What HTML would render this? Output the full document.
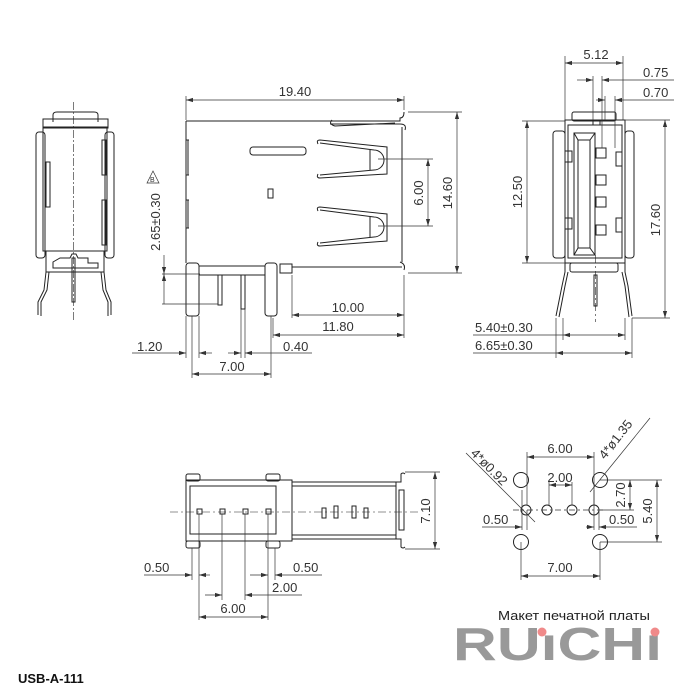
<!DOCTYPE html>
<html><head><meta charset="utf-8"><style>
html,body{margin:0;padding:0;background:#fff}
svg{display:block}
text{font-family:"Liberation Sans",sans-serif;font-size:13px;fill:#333}
</style></head><body>
<svg width="700" height="700" viewBox="0 0 700 700" xmlns="http://www.w3.org/2000/svg">
<defs>
<marker id="a" viewBox="0 0 10 10" refX="10" refY="5" markerWidth="7" markerHeight="7" orient="auto-start-reverse" markerUnits="userSpaceOnUse"><path d="M0,2 L10,5 L0,8z" fill="#333"/></marker>
</defs>
<g fill="none" stroke="#222" stroke-width="1">
<path d="M53,122 L53,115 Q53,112 57,112 L94,112 Q98,112 98,115 L98,122"/>
<rect x="43" y="119" width="65" height="9"/>
<rect x="43" y="127" width="64" height="124"/>
<rect x="36" y="132" width="9" height="126" rx="3"/>
<rect x="105" y="132" width="9" height="126" rx="3"/>
<rect x="46" y="162" width="4" height="45"/>
<rect x="102" y="140" width="4" height="35"/>
<rect x="102" y="200" width="4" height="45"/>
<rect x="46" y="251" width="58" height="21"/>
<path d="M53,268 L53,262 L60,258 L70,258 L72,254 L76,254 L78,258 L88,258 L88,263 L98,263 L98,268 Z"/>
<path d="M46,272 L44,290 L38,302 L38,315 M49,272 L47,290 L41,302 L41,316"/>
<path d="M104,272 L106,290 L111,302 L111,315 M101,272 L103,290 L108,302 L108,316"/>
<rect x="72" y="258" width="3" height="44"/>
<line x1="73.5" y1="102" x2="73.5" y2="322" stroke-width="0.6" stroke-dasharray="8 2 2 2"/>

<path d="M186,121 L400,121 L400,118 Q404,118 404,112"/>
<path d="M186,121 L186,263"/>
<path d="M402,127 L402,262"/>
<path d="M400,124 Q407,124 405,130 M400,262 Q406,264 404,270"/>
<path d="M330,124 L400,124 M332,120 Q328,124 335,126 L395,123"/>
<path d="M292,267 L402,267"/>
<rect x="280" y="264" width="12" height="9"/>
<rect x="186" y="263" width="13" height="53" rx="3"/>
<rect x="265" y="263" width="12" height="53" rx="3"/>
<rect x="199" y="266" width="66" height="9"/>
<rect x="218" y="275" width="4" height="30"/>
<rect x="241" y="275" width="4" height="34"/>
<rect x="250" y="147" width="56" height="8" rx="3"/>
<rect x="268" y="189" width="5" height="9"/>
<path d="M188,140 L188,175 M188,200 L188,228 M186,140 L189,140 M186,175 L189,175 M186,200 L189,200 M186,228 L189,228"/>
<path d="M320,140 L387,147 L387,174 L320,178 M318,144 Q316,140 320,140 M318,174 Q316,178 320,178 M320,143 L374,150 M320,175 L374,170 M374,150 A10,10 0 0 1 374,170 M370,150 L370,170"/>
<path d="M320,207 L387,214 L387,241 L320,246 M318,211 Q316,207 320,207 M318,242 Q316,246 320,246 M320,210 L374,217 M320,243 L374,237 M374,217 A10,10 0 0 1 374,237 M370,217 L370,237"/>
</g>
<g fill="none" stroke="#333" stroke-width="0.7">
<line x1="186" y1="100" x2="404" y2="100" marker-start="url(#a)" marker-end="url(#a)"/>
<line x1="186" y1="96" x2="186" y2="120"/><line x1="404" y1="96" x2="404" y2="110"/>
<line x1="378" y1="159" x2="433" y2="159"/><line x1="378" y1="226" x2="433" y2="226"/>
<line x1="428" y1="159" x2="428" y2="226" marker-start="url(#a)" marker-end="url(#a)"/>
<line x1="408" y1="112" x2="462" y2="112"/><line x1="408" y1="273" x2="462" y2="273"/>
<line x1="457" y1="112" x2="457" y2="273" marker-start="url(#a)" marker-end="url(#a)"/>
<line x1="162" y1="274" x2="200" y2="274"/><line x1="162" y1="304" x2="218" y2="304"/>
<line x1="164" y1="255" x2="164" y2="274" marker-end="url(#a)"/>
<line x1="164" y1="274" x2="164" y2="304" marker-start="url(#a)"/>
<line x1="292" y1="275" x2="292" y2="318"/><line x1="404" y1="275" x2="404" y2="338"/>
<line x1="292" y1="315" x2="404" y2="315" marker-start="url(#a)" marker-end="url(#a)"/>
<line x1="273" y1="318" x2="273" y2="338"/>
<line x1="273" y1="335" x2="404" y2="335" marker-start="url(#a)" marker-end="url(#a)"/>
<line x1="186" y1="316" x2="186" y2="358"/><line x1="199" y1="316" x2="199" y2="358"/>
<line x1="132" y1="353" x2="186" y2="353" marker-end="url(#a)"/>
<line x1="199" y1="353" x2="212" y2="353" marker-start="url(#a)"/>
<line x1="241" y1="309" x2="241" y2="358"/><line x1="245" y1="309" x2="245" y2="358"/>
<line x1="228" y1="353" x2="241" y2="353" marker-end="url(#a)"/>
<line x1="245" y1="353" x2="312" y2="353" marker-start="url(#a)"/>
<line x1="192" y1="316" x2="192" y2="378"/><line x1="271" y1="316" x2="271" y2="378"/>
<line x1="192" y1="374" x2="271" y2="374" marker-start="url(#a)" marker-end="url(#a)"/>
</g>
<g fill="none" stroke="#222" stroke-width="1">
<rect x="572" y="112" width="44" height="9" rx="2"/>
<rect x="565" y="120" width="60" height="143"/>
<rect x="568" y="125" width="54" height="133"/>
<rect x="553" y="131" width="12" height="127" rx="3"/>
<rect x="625" y="131" width="9" height="127" rx="3"/>
<rect x="574" y="133" width="21" height="122"/>
<path d="M578,140 L590,140 L590,248 L578,248 Z M574,133 L578,140 M595,133 L590,140 M574,255 L578,248 M595,255 L590,248"/>
<rect x="596" y="148" width="10" height="10"/><rect x="596" y="175" width="10" height="10"/>
<rect x="596" y="197" width="10" height="10"/><rect x="596" y="225" width="10" height="10"/>
<rect x="565" y="151" width="7" height="11"/><rect x="565" y="218" width="7" height="11"/>
<rect x="616" y="152" width="6" height="14"/><rect x="616" y="218" width="6" height="14"/>
<rect x="593" y="120" width="7" height="5"/>
<rect x="570" y="263" width="48" height="9" rx="2"/>
<path d="M565,263 L565,272 L562,286 L556,316 M568,272 L565,286 L559,317"/>
<path d="M625,263 L625,272 L628,286 L632,316 M622,272 L625,286 L629,317"/>
<rect x="594" y="275" width="3" height="31"/>
<line x1="595.5" y1="255" x2="595.5" y2="322" stroke-width="0.6" stroke-dasharray="8 3 2 3"/>
</g>
<g fill="none" stroke="#333" stroke-width="0.7">
<line x1="565" y1="56" x2="565" y2="120"/><line x1="623" y1="56" x2="623" y2="120"/>
<line x1="565" y1="63" x2="623" y2="63" marker-start="url(#a)" marker-end="url(#a)"/>
<line x1="593" y1="76" x2="593" y2="120"/><line x1="602" y1="76" x2="602" y2="148"/>
<line x1="577" y1="80" x2="593" y2="80" marker-end="url(#a)"/>
<line x1="602" y1="80" x2="674" y2="80" marker-start="url(#a)"/>
<line x1="605" y1="96" x2="605" y2="120"/><line x1="615" y1="96" x2="615" y2="148"/>
<line x1="596" y1="100" x2="605" y2="100" marker-end="url(#a)"/>
<line x1="615" y1="100" x2="674" y2="100" marker-start="url(#a)"/>
<line x1="522" y1="121" x2="565" y2="121"/><line x1="522" y1="263" x2="565" y2="263"/>
<line x1="527" y1="121" x2="527" y2="263" marker-start="url(#a)" marker-end="url(#a)"/>
<line x1="625" y1="120" x2="670" y2="120"/><line x1="632" y1="318" x2="670" y2="318"/>
<line x1="665" y1="120" x2="665" y2="318" marker-start="url(#a)" marker-end="url(#a)"/>
<line x1="563" y1="318" x2="563" y2="340"/><line x1="625" y1="318" x2="625" y2="340"/>
<line x1="473" y1="335" x2="563" y2="335"/>
<line x1="563" y1="335" x2="625" y2="335" marker-start="url(#a)" marker-end="url(#a)"/>
<line x1="556" y1="318" x2="556" y2="358"/><line x1="632" y1="318" x2="632" y2="358"/>
<line x1="473" y1="353" x2="556" y2="353"/>
<line x1="556" y1="353" x2="632" y2="353" marker-start="url(#a)" marker-end="url(#a)"/>
</g>
<g fill="none" stroke="#222" stroke-width="1">
<rect x="186" y="480" width="106" height="61"/>
<rect x="190" y="486" width="86" height="48"/>
<rect x="186" y="474" width="14" height="7" rx="2"/><rect x="266" y="474" width="14" height="7" rx="2"/>
<rect x="186" y="541" width="14" height="7" rx="2"/><rect x="266" y="541" width="14" height="7" rx="2"/>
<rect x="292" y="482" width="104" height="57"/>
<line x1="292" y1="486" x2="396" y2="486"/><line x1="292" y1="535" x2="396" y2="535"/>
<path d="M396,482 L401,482 L401,474 Q403,472 405,474 M396,539 L401,539 L401,547 Q403,549 405,547"/>
<rect x="399" y="490" width="5" height="40"/>
<rect x="197" y="509" width="5" height="5"/><rect x="220" y="509" width="5" height="5"/>
<rect x="243" y="509" width="5" height="5"/><rect x="266" y="509" width="5" height="5"/>
<path d="M322,508 L326,508 L326,518 L322,518 Z M334,506 L338,506 L338,518 L334,518 Z M352,506 L356,506 L356,518 L352,518 Z M364,508 L368,508 L368,518 L364,518 Z"/>
<line x1="170" y1="512" x2="420" y2="512" stroke-width="0.6" stroke-dasharray="8 3 2 3"/>
</g>
<g fill="none" stroke="#333" stroke-width="0.7">
<line x1="405" y1="472" x2="440" y2="472"/><line x1="405" y1="549" x2="440" y2="549"/>
<line x1="435" y1="472" x2="435" y2="549" marker-start="url(#a)" marker-end="url(#a)"/>
<line x1="192" y1="548" x2="192" y2="580"/><line x1="199" y1="514" x2="199" y2="620"/>
<line x1="144" y1="575" x2="192" y2="575" marker-end="url(#a)"/>
<line x1="199" y1="575" x2="210" y2="575" marker-start="url(#a)"/>
<line x1="268" y1="514" x2="268" y2="620"/><line x1="275" y1="548" x2="275" y2="580"/>
<line x1="250" y1="575" x2="268" y2="575" marker-end="url(#a)"/>
<line x1="275" y1="575" x2="322" y2="575" marker-start="url(#a)"/>
<line x1="222" y1="514" x2="222" y2="600"/><line x1="245" y1="514" x2="245" y2="600"/>
<line x1="205" y1="595" x2="222" y2="595" marker-end="url(#a)"/>
<line x1="245" y1="595" x2="302" y2="595" marker-start="url(#a)"/>
<line x1="199" y1="617" x2="268" y2="617" marker-start="url(#a)" marker-end="url(#a)"/>
</g>
<g fill="none" stroke="#222" stroke-width="1">
<circle cx="521" cy="480" r="7.5"/><circle cx="600" cy="480" r="7.5"/>
<circle cx="521" cy="542" r="7.5"/><circle cx="600" cy="542" r="7.5"/>
<circle cx="526" cy="510" r="5"/><circle cx="547" cy="510" r="5"/>
<circle cx="572" cy="510" r="5"/><circle cx="594" cy="510" r="5"/>
</g>
<g fill="none" stroke="#333" stroke-width="0.7">
<line x1="513" y1="510" x2="605" y2="510" stroke-dasharray="6 3 2 3"/>
<line x1="527" y1="452" x2="527" y2="505"/><line x1="594" y1="452" x2="594" y2="505"/>
<line x1="527" y1="457" x2="594" y2="457" marker-start="url(#a)" marker-end="url(#a)"/>
<line x1="549" y1="482" x2="549" y2="505"/><line x1="572" y1="482" x2="572" y2="505"/>
<line x1="549" y1="485" x2="572" y2="485" marker-start="url(#a)" marker-end="url(#a)"/>
<line x1="521" y1="542" x2="521" y2="580"/><line x1="600" y1="542" x2="600" y2="580"/>
<line x1="521" y1="576" x2="600" y2="576" marker-start="url(#a)" marker-end="url(#a)"/>
<line x1="600" y1="480" x2="662" y2="480"/><line x1="600" y1="510" x2="634" y2="510"/><line x1="600" y1="542" x2="662" y2="542"/>
<line x1="630" y1="480" x2="630" y2="510" marker-start="url(#a)" marker-end="url(#a)"/>
<line x1="657" y1="480" x2="657" y2="542" marker-start="url(#a)" marker-end="url(#a)"/>
<line x1="522" y1="490" x2="522" y2="530"/><line x1="527" y1="510" x2="527" y2="530"/>
<line x1="482" y1="527" x2="522" y2="527" marker-end="url(#a)"/>
<line x1="594" y1="490" x2="594" y2="530"/><line x1="599" y1="510" x2="599" y2="530"/>
<line x1="599" y1="527" x2="637" y2="527" marker-start="url(#a)"/>
<line x1="586" y1="527" x2="594" y2="527" marker-end="url(#a)"/>
<line x1="466" y1="453" x2="535" y2="522"/>
<line x1="590" y1="492" x2="650" y2="418"/>
</g>
<text x="295" y="96" text-anchor="middle">19.40</text>
<text transform="translate(423,193) rotate(-90)" text-anchor="middle">6.00</text>
<text transform="translate(452,193) rotate(-90)" text-anchor="middle">14.60</text>
<text transform="translate(160,222) rotate(-90)" text-anchor="middle">2.65±0.30</text>
<path d="M153,171 L147,183 L159,183 Z" fill="none" stroke="#333" stroke-width="0.7"/>
<text x="150" y="182" style="font-size:7px">B</text>
<text x="348" y="312" text-anchor="middle">10.00</text>
<text x="338" y="331" text-anchor="middle">11.80</text>
<text x="137" y="351">1.20</text>
<text x="283" y="351">0.40</text>
<text x="232" y="371" text-anchor="middle">7.00</text>
<text x="596" y="59" text-anchor="middle">5.12</text>
<text x="643" y="77">0.75</text>
<text x="643" y="97">0.70</text>
<text transform="translate(522,192) rotate(-90)" text-anchor="middle">12.50</text>
<text transform="translate(660,220) rotate(-90)" text-anchor="middle">17.60</text>
<text x="475" y="332">5.40±0.30</text>
<text x="475" y="350">6.65±0.30</text>
<text transform="translate(430,511) rotate(-90)" text-anchor="middle">7.10</text>
<text x="144" y="572">0.50</text>
<text x="293" y="572">0.50</text>
<text x="272" y="592">2.00</text>
<text x="233" y="613" text-anchor="middle">6.00</text>
<text x="560" y="453" text-anchor="middle">6.00</text>
<text x="560" y="482" text-anchor="middle">2.00</text>
<text x="560" y="572" text-anchor="middle">7.00</text>
<text transform="translate(625,495) rotate(-90)" text-anchor="middle">2.70</text>
<text transform="translate(652,511) rotate(-90)" text-anchor="middle">5.40</text>
<text x="483" y="524">0.50</text>
<text x="609" y="524">0.50</text>
<text transform="translate(470,454) rotate(45)">4*ø0.92</text>
<text transform="translate(605,460) rotate(-52)">4*ø1.35</text>
<text x="574" y="620" text-anchor="middle" style="font-size:13px;fill:#222" textLength="152" lengthAdjust="spacingAndGlyphs">Макет печатной платы</text>
<text x="453" y="660" textLength="209" lengthAdjust="spacingAndGlyphs" style="font-size:46px;font-weight:bold;fill:#999">RUıCHı</text>
<circle cx="542" cy="632" r="4.5" fill="#f08a8a"/><circle cx="655" cy="632" r="4.5" fill="#f08a8a"/>
<text x="18" y="683" style="font-size:13px;font-weight:bold;fill:#111">USB-A-111</text>
</svg>
</body></html>
